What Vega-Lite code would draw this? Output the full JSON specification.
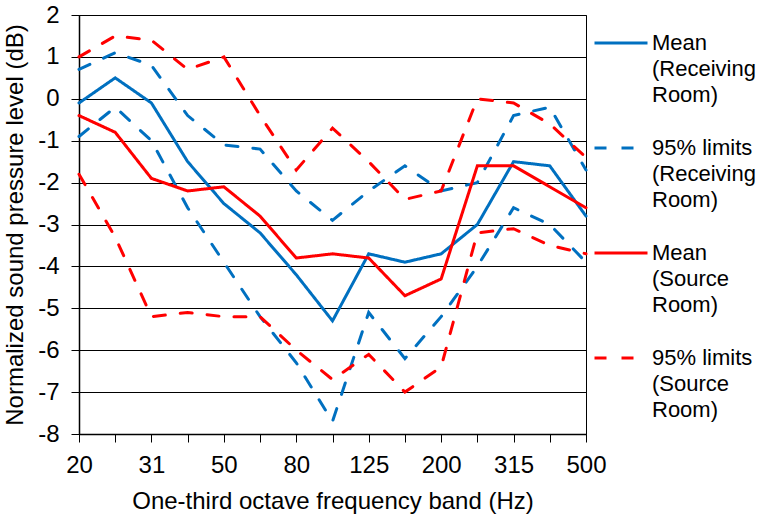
{
  "$schema": "https://vega.github.io/schema/vega-lite/v6.json",
  "width": 507,
  "height": 419,
  "autosize": {"type": "none"},
  "padding": {"left": 79, "top": 15, "right": 174, "bottom": 85},
  "background": "white",
  "config": {
    "font": "Liberation Sans",
    "view": {"stroke": "#000000", "strokeWidth": 1},
    "style": {"guide-label": {"lineHeight": 26}},
    "axis": {
      "labelFont": "Liberation Sans",
      "titleFont": "Liberation Sans",
      "labelColor": "#000000",
      "titleColor": "#000000",
      "labelFontSize": 24,
      "titleFontSize": 24,
      "titleFontWeight": "normal",
      "tickColor": "#000000",
      "tickSize": 8,
      "tickWidth": 1,
      "domainColor": "#000000",
      "domainWidth": 1.5
    }
  },
  "data": {
    "values": [
      {"band": "20", "series": "Mean (Receiving Room)", "line": "recv-mean", "db": -0.1},
      {"band": "25", "series": "Mean (Receiving Room)", "line": "recv-mean", "db": 0.5},
      {"band": "31.5", "series": "Mean (Receiving Room)", "line": "recv-mean", "db": -0.1},
      {"band": "40", "series": "Mean (Receiving Room)", "line": "recv-mean", "db": -1.5},
      {"band": "50", "series": "Mean (Receiving Room)", "line": "recv-mean", "db": -2.5},
      {"band": "63", "series": "Mean (Receiving Room)", "line": "recv-mean", "db": -3.2},
      {"band": "80", "series": "Mean (Receiving Room)", "line": "recv-mean", "db": -4.2},
      {"band": "100", "series": "Mean (Receiving Room)", "line": "recv-mean", "db": -5.3},
      {"band": "125", "series": "Mean (Receiving Room)", "line": "recv-mean", "db": -3.7},
      {"band": "160", "series": "Mean (Receiving Room)", "line": "recv-mean", "db": -3.9},
      {"band": "200", "series": "Mean (Receiving Room)", "line": "recv-mean", "db": -3.7},
      {"band": "250", "series": "Mean (Receiving Room)", "line": "recv-mean", "db": -3.0},
      {"band": "315", "series": "Mean (Receiving Room)", "line": "recv-mean", "db": -1.5},
      {"band": "400", "series": "Mean (Receiving Room)", "line": "recv-mean", "db": -1.6},
      {"band": "500", "series": "Mean (Receiving Room)", "line": "recv-mean", "db": -2.8},

      {"band": "20", "series": "95% limits (Receiving Room)", "line": "recv-upper", "db": 0.7},
      {"band": "25", "series": "95% limits (Receiving Room)", "line": "recv-upper", "db": 1.1},
      {"band": "31.5", "series": "95% limits (Receiving Room)", "line": "recv-upper", "db": 0.8},
      {"band": "40", "series": "95% limits (Receiving Room)", "line": "recv-upper", "db": -0.4},
      {"band": "50", "series": "95% limits (Receiving Room)", "line": "recv-upper", "db": -1.1},
      {"band": "63", "series": "95% limits (Receiving Room)", "line": "recv-upper", "db": -1.2},
      {"band": "80", "series": "95% limits (Receiving Room)", "line": "recv-upper", "db": -2.2},
      {"band": "100", "series": "95% limits (Receiving Room)", "line": "recv-upper", "db": -2.9},
      {"band": "125", "series": "95% limits (Receiving Room)", "line": "recv-upper", "db": -2.2},
      {"band": "160", "series": "95% limits (Receiving Room)", "line": "recv-upper", "db": -1.6},
      {"band": "200", "series": "95% limits (Receiving Room)", "line": "recv-upper", "db": -2.2},
      {"band": "250", "series": "95% limits (Receiving Room)", "line": "recv-upper", "db": -2.0},
      {"band": "315", "series": "95% limits (Receiving Room)", "line": "recv-upper", "db": -0.4},
      {"band": "400", "series": "95% limits (Receiving Room)", "line": "recv-upper", "db": -0.2},
      {"band": "500", "series": "95% limits (Receiving Room)", "line": "recv-upper", "db": -1.7},

      {"band": "20", "series": "95% limits (Receiving Room)", "line": "recv-lower", "db": -0.9},
      {"band": "25", "series": "95% limits (Receiving Room)", "line": "recv-lower", "db": -0.2},
      {"band": "31.5", "series": "95% limits (Receiving Room)", "line": "recv-lower", "db": -1.0},
      {"band": "40", "series": "95% limits (Receiving Room)", "line": "recv-lower", "db": -2.6},
      {"band": "50", "series": "95% limits (Receiving Room)", "line": "recv-lower", "db": -3.9},
      {"band": "63", "series": "95% limits (Receiving Room)", "line": "recv-lower", "db": -5.2},
      {"band": "80", "series": "95% limits (Receiving Room)", "line": "recv-lower", "db": -6.3},
      {"band": "100", "series": "95% limits (Receiving Room)", "line": "recv-lower", "db": -7.7},
      {"band": "125", "series": "95% limits (Receiving Room)", "line": "recv-lower", "db": -5.1},
      {"band": "160", "series": "95% limits (Receiving Room)", "line": "recv-lower", "db": -6.2},
      {"band": "200", "series": "95% limits (Receiving Room)", "line": "recv-lower", "db": -5.2},
      {"band": "250", "series": "95% limits (Receiving Room)", "line": "recv-lower", "db": -4.0},
      {"band": "315", "series": "95% limits (Receiving Room)", "line": "recv-lower", "db": -2.6},
      {"band": "400", "series": "95% limits (Receiving Room)", "line": "recv-lower", "db": -3.0},
      {"band": "500", "series": "95% limits (Receiving Room)", "line": "recv-lower", "db": -3.9},

      {"band": "20", "series": "Mean (Source Room)", "line": "src-mean", "db": -0.4},
      {"band": "25", "series": "Mean (Source Room)", "line": "src-mean", "db": -0.8},
      {"band": "31.5", "series": "Mean (Source Room)", "line": "src-mean", "db": -1.9},
      {"band": "40", "series": "Mean (Source Room)", "line": "src-mean", "db": -2.2},
      {"band": "50", "series": "Mean (Source Room)", "line": "src-mean", "db": -2.1},
      {"band": "63", "series": "Mean (Source Room)", "line": "src-mean", "db": -2.8},
      {"band": "80", "series": "Mean (Source Room)", "line": "src-mean", "db": -3.8},
      {"band": "100", "series": "Mean (Source Room)", "line": "src-mean", "db": -3.7},
      {"band": "125", "series": "Mean (Source Room)", "line": "src-mean", "db": -3.8},
      {"band": "160", "series": "Mean (Source Room)", "line": "src-mean", "db": -4.7},
      {"band": "200", "series": "Mean (Source Room)", "line": "src-mean", "db": -4.3},
      {"band": "250", "series": "Mean (Source Room)", "line": "src-mean", "db": -1.6},
      {"band": "315", "series": "Mean (Source Room)", "line": "src-mean", "db": -1.6},
      {"band": "400", "series": "Mean (Source Room)", "line": "src-mean", "db": -2.1},
      {"band": "500", "series": "Mean (Source Room)", "line": "src-mean", "db": -2.6},

      {"band": "20", "series": "95% limits (Source Room)", "line": "src-upper", "db": 1.0},
      {"band": "25", "series": "95% limits (Source Room)", "line": "src-upper", "db": 1.5},
      {"band": "31.5", "series": "95% limits (Source Room)", "line": "src-upper", "db": 1.4},
      {"band": "40", "series": "95% limits (Source Room)", "line": "src-upper", "db": 0.7},
      {"band": "50", "series": "95% limits (Source Room)", "line": "src-upper", "db": 1.0},
      {"band": "63", "series": "95% limits (Source Room)", "line": "src-upper", "db": -0.4},
      {"band": "80", "series": "95% limits (Source Room)", "line": "src-upper", "db": -1.7},
      {"band": "100", "series": "95% limits (Source Room)", "line": "src-upper", "db": -0.7},
      {"band": "125", "series": "95% limits (Source Room)", "line": "src-upper", "db": -1.5},
      {"band": "160", "series": "95% limits (Source Room)", "line": "src-upper", "db": -2.4},
      {"band": "200", "series": "95% limits (Source Room)", "line": "src-upper", "db": -2.2},
      {"band": "250", "series": "95% limits (Source Room)", "line": "src-upper", "db": 0.0},
      {"band": "315", "series": "95% limits (Source Room)", "line": "src-upper", "db": -0.1},
      {"band": "400", "series": "95% limits (Source Room)", "line": "src-upper", "db": -0.6},
      {"band": "500", "series": "95% limits (Source Room)", "line": "src-upper", "db": -1.4},

      {"band": "20", "series": "95% limits (Source Room)", "line": "src-lower", "db": -1.8},
      {"band": "25", "series": "95% limits (Source Room)", "line": "src-lower", "db": -3.3},
      {"band": "31.5", "series": "95% limits (Source Room)", "line": "src-lower", "db": -5.2},
      {"band": "40", "series": "95% limits (Source Room)", "line": "src-lower", "db": -5.1},
      {"band": "50", "series": "95% limits (Source Room)", "line": "src-lower", "db": -5.2},
      {"band": "63", "series": "95% limits (Source Room)", "line": "src-lower", "db": -5.2},
      {"band": "80", "series": "95% limits (Source Room)", "line": "src-lower", "db": -6.0},
      {"band": "100", "series": "95% limits (Source Room)", "line": "src-lower", "db": -6.7},
      {"band": "125", "series": "95% limits (Source Room)", "line": "src-lower", "db": -6.1},
      {"band": "160", "series": "95% limits (Source Room)", "line": "src-lower", "db": -7.0},
      {"band": "200", "series": "95% limits (Source Room)", "line": "src-lower", "db": -6.4},
      {"band": "250", "series": "95% limits (Source Room)", "line": "src-lower", "db": -3.2},
      {"band": "315", "series": "95% limits (Source Room)", "line": "src-lower", "db": -3.1},
      {"band": "400", "series": "95% limits (Source Room)", "line": "src-lower", "db": -3.5},
      {"band": "500", "series": "95% limits (Source Room)", "line": "src-lower", "db": -3.7}
    ]
  },
  "mark": {"type": "line", "strokeWidth": 3, "strokeCap": "round", "strokeJoin": "miter"},
  "encoding": {
    "x": {
      "field": "band",
      "type": "ordinal",
      "scale": {
        "type": "point",
        "padding": 0,
        "domain": ["20", "25", "31.5", "40", "50", "63", "80", "100", "125", "160", "200", "250", "315", "400", "500"]
      },
      "axis": {
        "title": "One-third octave frequency band (Hz)",
        "labelAngle": 0,
        "labelPadding": 11,
        "labelOverlap": false,
        "labelFlush": false,
        "titlePadding": 12,
        "grid": false,
        "labelExpr": "datum.value == '31.5' ? '31' : indexof(['20', '50', '80', '125', '200', '315', '500'], datum.value) >= 0 ? datum.value : ''"
      }
    },
    "y": {
      "field": "db",
      "type": "quantitative",
      "scale": {"domain": [-8, 2], "nice": false, "zero": false},
      "axis": {
        "title": "Normalized sound pressure level (dB)",
        "values": [-8, -7, -6, -5, -4, -3, -2, -1, 0, 1, 2],
        "labelPadding": 12,
        "titlePadding": 10,
        "grid": true,
        "gridColor": "#000000",
        "gridWidth": 1,
        "gridOpacity": 1,
        "labelExpr": "datum.value < 0 ? '-' + abs(datum.value) : '' + datum.value"
      }
    },
    "color": {
      "field": "series",
      "type": "nominal",
      "scale": {
        "domain": ["Mean (Receiving Room)", "95% limits (Receiving Room)", "Mean (Source Room)", "95% limits (Source Room)"],
        "range": ["#0070C0", "#0070C0", "#FF0000", "#FF0000"]
      },
      "legend": {
        "title": null,
        "orient": "right",
        "offset": 1,
        "padding": 0,
        "symbolType": "stroke",
        "symbolSize": 2809,
        "symbolStrokeWidth": 3,
        "labelFont": "Liberation Sans",
        "labelFontSize": 22,
        "labelColor": "#000000",
        "labelLimit": 300,
        "labelOffset": 3,
        "labelBaseline": "middle",
        "rowPadding": 14,
        "labelExpr": "split(replace(replace(datum.label, ' (', '|('), ' Room', '|Room'), '|')"
      }
    },
    "strokeDash": {
      "field": "series",
      "type": "nominal",
      "scale": {
        "domain": ["Mean (Receiving Room)", "95% limits (Receiving Room)", "Mean (Source Room)", "95% limits (Source Room)"],
        "range": [[1, 0], [12, 15], [1, 0], [12, 15]]
      },
      "legend": {
        "title": null,
        "orient": "right",
        "offset": 1,
        "padding": 0,
        "symbolType": "stroke",
        "symbolSize": 2809,
        "symbolStrokeWidth": 3,
        "labelFont": "Liberation Sans",
        "labelFontSize": 22,
        "labelColor": "#000000",
        "labelLimit": 300,
        "labelOffset": 3,
        "labelBaseline": "middle",
        "rowPadding": 14,
        "labelExpr": "split(replace(replace(datum.label, ' (', '|('), ' Room', '|Room'), '|')"
      }
    },
    "detail": {"field": "line"}
  }
}
